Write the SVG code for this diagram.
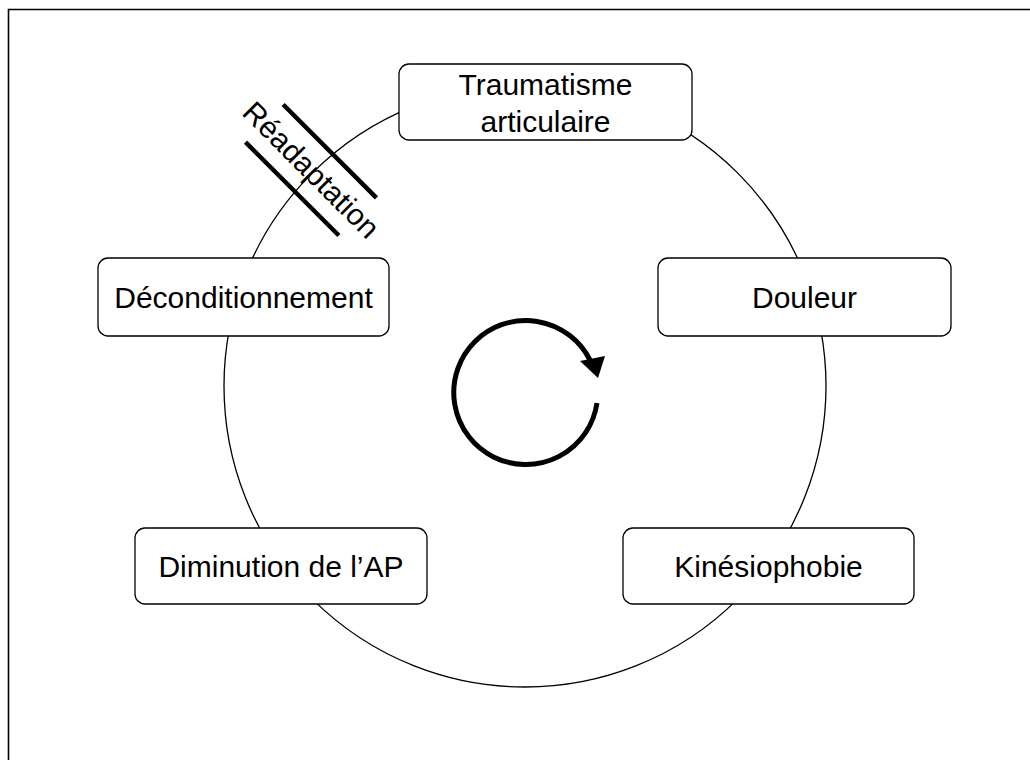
<svg xmlns="http://www.w3.org/2000/svg" width="1030" height="760" viewBox="0 0 1030 760">
<style>
.box{fill:#fff;stroke:#000;stroke-width:1.3}
.lbl{font-family:"Liberation Sans",Arial,sans-serif;font-size:30px;fill:#000;text-anchor:middle}
.ring{fill:none;stroke:#000;stroke-width:1.3}
</style>
<rect width="1030" height="760" fill="#fff"/>
<path d="M8.5,760 V9.5 H1030" fill="none" stroke="#000" stroke-width="1.6"/>
<g id="connectors">
<circle class="ring" cx="525" cy="386" r="301"/>
</g>
<g id="cycle-arrow">
<path d="M597,403 A72,72 0 1 1 590,360" fill="none" stroke="#000" stroke-width="5"/>
<polygon points="580,361 605,356 598,378" fill="#000"/>
</g>
<g id="node-traumatisme">
<rect class="box" x="399" y="64" width="293" height="76" rx="10"/>
<text class="lbl" x="545.5" y="95">Traumatisme</text>
<text class="lbl" x="545.5" y="132">articulaire</text>
</g>
<g id="node-douleur">
<rect class="box" x="658" y="258" width="293" height="78" rx="10"/>
<text class="lbl" x="804.5" y="308">Douleur</text>
</g>
<g id="node-kinesiophobie">
<rect class="box" x="623" y="528" width="291" height="76" rx="10"/>
<text class="lbl" x="768.5" y="577">Kinésiophobie</text>
</g>
<g id="node-diminution">
<rect class="box" x="135" y="528" width="292" height="76" rx="10"/>
<text class="lbl" x="281" y="577">Diminution de l’AP</text>
</g>
<g id="node-deconditionnement">
<rect class="box" x="98" y="258" width="291" height="78" rx="10"/>
<text class="lbl" x="243.5" y="308">Déconditionnement</text>
</g>
<g id="readaptation" transform="translate(311,170) rotate(45)">
<line x1="-66" y1="-26.6" x2="66" y2="-26.6" stroke="#000" stroke-width="4.5"/>
<line x1="-66" y1="26.6" x2="66" y2="26.6" stroke="#000" stroke-width="4.5"/>
<text class="lbl" x="0" y="10">Réadaptation</text>
</g>
</svg>
